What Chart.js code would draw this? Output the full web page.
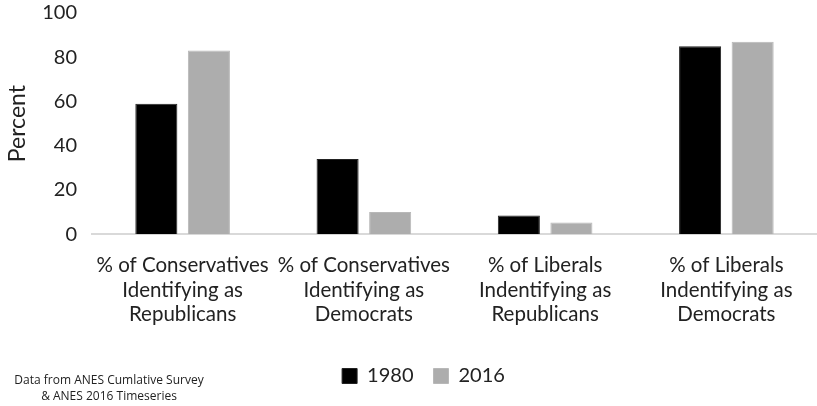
<!DOCTYPE html>
<html lang="en">
<head>
  <meta charset="UTF-8" />
  <title>Party identification by ideology, 1980 vs 2016</title>
  <script src="https://cdn.jsdelivr.net/npm/chart.js"></script>
  <style>
    html, body {
      margin: 0;
      padding: 0;
      background: #fff;
    }
    #wrap {
      position: relative;
      width: 817px;
      height: 406px;
    }
    .note {
      position: absolute;
      left: 4px;
      top: 372px;
      width: 210px;
      text-align: center;
      font-family: "Open Sans", sans-serif;
      font-size: 12px;
      line-height: 16px;
      color: #222;
    }
  </style>
</head>
<body>
  <div id="wrap">
    <canvas id="partyChart" width="817" height="406"></canvas>
    <div class="note">Data from ANES Cumlative Survey<br>&amp; ANES 2016 Timeseries</div>
  </div>

  <script>
    const categories = [
      ["% of Conservatives", "Identifying as", "Republicans"],
      ["% of Conservatives", "Identifying as", "Democrats"],
      ["% of Liberals", "Indentifying as", "Republicans"],
      ["% of Liberals", "Indentifying as", "Democrats"]
    ];
    const values1980 = [59, 34, 8.5, 85];
    const values2016 = [83, 10, 5.3, 87];
    const yTicks = [0, 20, 40, 60, 80, 100];

    const font = "Lato, 'Open Sans', sans-serif";

    // push the legend a little right of the canvas centre
    const legendNudge = {
      id: 'legendNudge',
      afterLayout(chart) {
        chart.legend.left += 13;
        chart.legend.right += 13;
      }
    };

    new Chart(document.getElementById("partyChart"), {
      type: 'bar',
      data: {
        labels: categories,
        datasets: [
          {
            label: "1980",
            data: values1980,
            backgroundColor: "#000000",
            borderColor: "#222",
            borderWidth: 1,
            categoryPercentage: 0.58,
            barPercentage: 0.8
          },
          {
            label: "2016",
            data: values2016,
            backgroundColor: "#adadad",
            borderColor: "#b8b8b8",
            borderWidth: 1,
            categoryPercentage: 0.58,
            barPercentage: 0.8
          }
        ]
      },
      plugins: [legendNudge],
      options: {
        responsive: false,
        animation: false,
        layout: {
          padding: { top: 13, right: 0, left: 4, bottom: 10 }
        },
        plugins: {
          tooltip: { enabled: false },
          legend: {
            position: 'bottom',
            labels: {
              color: "#222",
              font: { family: font, size: 20 },
              boxWidth: 15,
              boxHeight: 15,
              padding: 20
            }
          }
        },
        scales: {
          x: {
            grid: { display: false, drawTicks: false },
            border: { display: true, color: "#d9d9d9", width: 2 },
            afterFit: axis => {
              // the wide category labels may spill past the plot edges
              axis.paddingLeft = 0;
              axis.paddingRight = 0;
            },
            ticks: {
              color: "#222",
              font: { family: font, size: 20.5, lineHeight: 1.2 },
              maxRotation: 0,
              padding: 19
            }
          },
          y: {
            min: 0,
            max: 100,
            afterBuildTicks: axis => {
              axis.ticks = yTicks.map(v => ({ value: v }));
            },
            afterFit: axis => {
              axis.paddingTop = 0;
              axis.width = 88;
            },
            grid: { display: false, drawTicks: false },
            border: { display: false },
            title: {
              display: true,
              text: "Percent",
              color: "#222",
              font: { family: font, size: 23 },
              padding: { top: 0, bottom: 8 }
            },
            ticks: {
              color: "#222",
              font: { family: font, size: 20 },
              padding: 15
            }
          }
        }
      }
    });
  </script>
</body>
</html>
